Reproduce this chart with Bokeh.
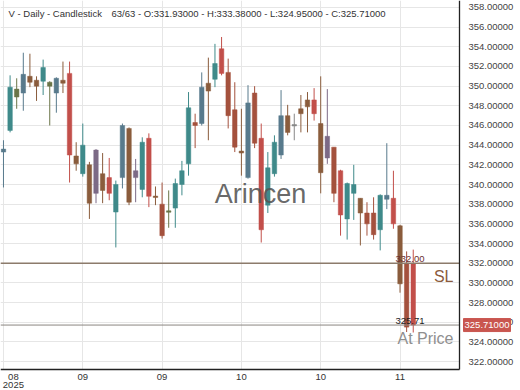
from bokeh.plotting import figure
from bokeh.models import Range1d, FixedTicker, Span, Label, ColumnDataSource
from bokeh.core.properties import value
from bokeh.embed import file_html
from bokeh.resources import INLINE

# ---- data ----
opens = [343.3, 345.5, 348.9, 349.3, 351.0, 350.6, 350.5, 350.0, 349.3, 350.6,
         351.3, 342.9, 341.1, 342.0, 339.1, 341.1, 340.7, 337.2, 340.7, 345.7,
         341.4, 339.5, 344.7, 338.8, 338.0, 337.3, 337.6, 340.0, 342.1, 346.3,
         346.2, 350.3, 350.7, 353.8, 351.4, 347.6, 343.4, 340.7, 349.3, 344.7,
         337.9, 341.1, 343.0, 347.0, 346.0, 347.7, 348.6, 348.6, 346.2, 342.7,
         343.8, 341.4, 336.5, 339.1, 338.6, 337.1, 337.1, 335.4, 338.5, 338.6,
         335.8, 332.0, 331.93]
highs = [344.5, 351.1, 350.8, 353.4, 353.3, 351.0, 352.7, 350.5, 350.9, 352.5,
         352.5, 344.3, 346.2, 342.3, 343.6, 343.2, 342.7, 340.4, 346.2, 345.8,
         342.6, 344.8, 345.2, 339.8, 340.2, 339.4, 340.6, 342.4, 349.4, 347.2,
         351.4, 352.9, 354.3, 355.0, 352.8, 350.4, 347.7, 350.1, 350.0, 346.2,
         343.3, 345.0, 349.6, 348.1, 347.2, 349.1, 349.4, 349.8, 351.0, 349.7,
         343.8, 341.5, 340.2, 342.0, 338.6, 338.2, 338.7, 339.0, 344.2, 341.4,
         335.9, 333.2, 333.38]
lows = [339.7, 345.3, 347.7, 347.5, 349.9, 348.5, 349.1, 346.0, 347.3, 349.3,
        340.2, 341.4, 340.8, 336.5, 338.1, 338.1, 338.4, 333.6, 339.6, 337.9,
        338.2, 338.7, 337.7, 337.9, 334.5, 335.6, 335.6, 338.9, 340.9, 343.7,
        346.0, 344.5, 349.9, 351.1, 345.7, 343.3, 340.9, 340.6, 343.7, 334.1,
        337.1, 340.8, 342.6, 345.0, 344.5, 345.3, 345.3, 346.5, 339.1, 342.1,
        338.2, 334.8, 334.4, 336.4, 333.8, 334.8, 334.4, 333.3, 337.5, 335.5,
        329.0, 325.0, 324.95]
closes = [343.6, 349.9, 349.7, 351.2, 350.4, 350.0, 351.9, 350.4, 350.8, 350.3,
          343.0, 342.1, 344.0, 338.1, 343.5, 339.4, 339.1, 340.0, 346.0, 338.2,
          340.7, 344.3, 338.8, 338.7, 334.8, 337.2, 340.1, 341.4, 347.8, 346.0,
          349.9, 349.5, 352.3, 351.3, 347.0, 343.8, 343.2, 348.3, 344.2, 335.4,
          341.7, 344.3, 347.0, 345.3, 346.05, 347.2, 347.9, 347.2, 341.2, 344.9,
          339.1, 336.9, 340.1, 340.0, 337.1, 336.0, 334.9, 338.9, 338.9, 336.0,
          329.9, 325.5, 325.71]
tone = ["slate", "teal", "olive", "slate", "brown", "brown", "teal", "olive", "slate", "brown",
        "red", "brown", "teal", "brown", "mauve", "brown", "red", "teal", "slate", "brown",
        "mauve", "teal", "red", "brown", "rbrown", "olive", "teal", "teal", "teal", "rbrown",
        "slate", "brown", "teal", "red", "rbrown", "rbrown", "brown", "slate", "rbrown", "red",
        "teal", "teal", "slate", "brown", "gray", "brown", "brown", "red", "brown", "mauve",
        "rbrown", "red", "teal", "teal", "brown", "rbrown", "rbrown", "teal", "slate", "red",
        "brown", "rbrown", "red"]
x_tick_idx = [0, 12, 24, 36, 48, 60]
x_tick_labels = ["08", "09", "09", "10", "10", "11"]
year_label = "2025"
y_ticks = [322, 324, 326, 328, 330, 332, 334, 336, 338, 340, 342, 344, 346, 348,
           350, 352, 354, 356, 358]
sl_price = 332.00
at_price = 325.71
title_left = "V - Daily - Candlestick"
title_right = "63/63 - O:331.93000 - H:333.38000 - L:324.95000 - C:325.71000"
watermark = "Arincen"

# ---- style / layout ----
palette = {"teal": "#3f8a8a", "slate": "#587a8c", "olive": "#6a7548", "brown": "#8a5c3c",
           "red": "#c24f4a", "mauve": "#7c6a86", "rbrown": "#a4513d", "gray": "#888888"}
FONT = "Liberation Sans"
W, H = 520, 390          # canvas (frame covers all of it)
PW, PH = 459, 369        # plotting area: right axis at x=459, bottom axis at y=369
X0, XP = -0.45, 69.0     # index range over the plotting area
YP, Y1 = 321.19, 358.71  # price range over the plotting area
X1 = X0 + W * (XP - X0) / PW
Y0 = Y1 - H * (Y1 - YP) / PH


def px2x(px):
    return X0 + px * (XP - X0) / PW


def py2y(py):
    return Y1 - py * (Y1 - YP) / PH


AXIS_X = px2x(PW)
AXIS_Y = py2y(PH)

n = len(opens)
idx = list(range(n))
tops, bots = [], []
for o, c in zip(opens, closes):
    hi, lo = max(o, c), min(o, c)
    if hi - lo < 0.15:
        mid = (hi + lo) / 2
        hi, lo = mid + 0.075, mid - 0.075
    tops.append(hi)
    bots.append(lo)
colors = [palette[t] for t in tone]

src = ColumnDataSource(dict(x=idx, high=highs, low=lows, top=tops, bottom=bots, color=colors))

p = figure(width=W, height=H, x_range=Range1d(X0, X1), y_range=Range1d(Y0, Y1),
           output_backend="svg", toolbar_location=None, min_border=0,
           min_border_left=0, min_border_right=0, min_border_top=0, min_border_bottom=0)
p.outline_line_color = None
p.background_fill_color = "white"
p.border_fill_color = "white"
p.xaxis.visible = False
p.yaxis.visible = False

# grid
GRID = "#e6e6e6"
p.xgrid.ticker = FixedTicker(ticks=x_tick_idx)
p.ygrid.ticker = FixedTicker(ticks=y_ticks)
p.xgrid.grid_line_color = GRID
p.ygrid.grid_line_color = GRID
try:
    p.xgrid.cross_bounds = (AXIS_Y, Y1)
    p.ygrid.cross_bounds = (X0, AXIS_X)
except Exception:
    p.xgrid.visible = False
    p.ygrid.visible = False
    p.segment(x0=x_tick_idx, y0=[AXIS_Y] * len(x_tick_idx), x1=x_tick_idx,
              y1=[Y1] * len(x_tick_idx), line_color=GRID, line_width=1)
    p.segment(x0=[X0] * len(y_ticks), y0=y_ticks, x1=[AXIS_X] * len(y_ticks),
              y1=y_ticks, line_color=GRID, line_width=1)

# candles
p.segment(x0="x", y0="low", x1="x", y1="high", line_color="color", line_width=1, source=src)
p.vbar(x="x", width=0.68, top="top", bottom="bottom", fill_color="color",
       line_color="color", line_width=0.5, source=src)

# horizontal levels (limited to the plotting area)
p.segment(x0=[X0], y0=[sl_price], x1=[AXIS_X], y1=[sl_price], line_color="#8c7b6b", line_width=1.5)
p.segment(x0=[X0], y0=[at_price], x1=[AXIS_X], y1=[at_price], line_color="#8a8580", line_width=1)

# axis lines
p.segment(x0=[X0, AXIS_X], y0=[AXIS_Y, AXIS_Y], x1=[AXIS_X, AXIS_X], y1=[AXIS_Y, Y1],
          line_color="#222222", line_width=1.3)

# y tick labels (right side)
ysrc = ColumnDataSource(dict(x=[px2x(468)] * len(y_ticks), y=y_ticks,
                             t=["%.5f" % v for v in y_ticks]))
p.text(x="x", y="y", text="t", source=ysrc, text_align="left", text_baseline="middle",
       text_font=value(FONT), text_font_size="9.5px", text_color="#444444")

# x tick labels (bottom)
label_pos = [x_tick_idx[0] + 1.5] + x_tick_idx[1:]
xsrc = ColumnDataSource(dict(x=label_pos, y=[py2y(376.5)] * len(label_pos), t=x_tick_labels))
p.text(x="x", y="y", text="t", source=xsrc, text_align="center", text_baseline="middle",
       text_font=value(FONT), text_font_size="9.5px", text_color="#333333")
p.text(x=[label_pos[0]], y=[py2y(384.5)], text=[year_label], text_align="center",
       text_baseline="middle", text_font=value(FONT), text_font_size="9.5px",
       text_color="#333333")

# current price box on the axis
p.rect(x=[px2x(486.5)], y=[at_price], width=47, height=13, width_units="screen",
       height_units="screen", fill_color="#c9564f", line_color="#c9564f")
p.text(x=[px2x(486.5)], y=[at_price], text=["%.5f" % at_price], text_align="center",
       text_baseline="middle", text_font=value(FONT), text_font_size="9.5px",
       text_color="white")

# level labels
p.add_layout(Label(x=px2x(424), y=sl_price, text="%.2f" % sl_price, text_align="right",
                   text_baseline="bottom", y_offset=1, text_font=FONT,
                   text_font_size="9.5px", text_color="#6b2f2f"))
p.add_layout(Label(x=px2x(424), y=at_price, text="%.2f" % at_price, text_align="right",
                   text_baseline="bottom", y_offset=1, text_font=FONT,
                   text_font_size="9.5px", text_color="#222222"))
p.add_layout(Label(x=px2x(453), y=py2y(276), text="SL", text_align="right",
                   text_baseline="middle", text_font=FONT, text_font_size="16px",
                   text_color="#8b5a3c"))
p.add_layout(Label(x=px2x(453), y=py2y(338), text="At Price", text_align="right",
                   text_baseline="middle", text_font=FONT, text_font_size="16px",
                   text_color="#8f8f8f"))

# watermark
p.add_layout(Label(x=px2x(260), y=py2y(193), text=watermark, text_align="center",
                   text_baseline="middle", text_font=FONT, text_font_size="27px",
                   text_color="#555555", text_alpha=0.9))

# title
p.add_layout(Label(x=px2x(8), y=py2y(12.5), text=title_left, text_align="left",
                   text_baseline="middle", text_font=FONT, text_font_size="9.5px",
                   text_color="#333333"))
p.add_layout(Label(x=px2x(111), y=py2y(12.5), text=title_right, text_align="left",
                   text_baseline="middle", text_font=FONT, text_font_size="9.5px",
                   text_color="#333333"))

open("out.html", "w").write(file_html(p, INLINE))
